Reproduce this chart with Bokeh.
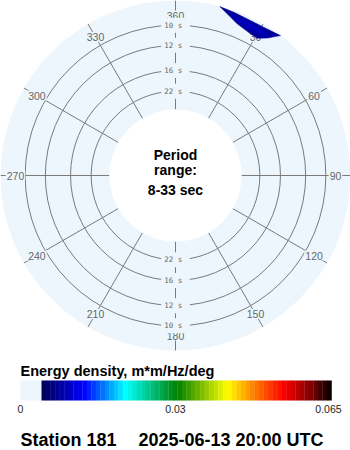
import numpy as np
from bokeh.plotting import figure
from bokeh.models import Range1d
from bokeh.core.properties import value
from bokeh.embed import file_html
from bokeh.resources import INLINE

# ---------------- data ----------------
ring_periods = [10, 12, 16, 22]
ring_labels = ["10  s", "12  s", "16  s", "22  s"]
period_min, period_max = 8, 33
dir_ticks = [0, 30, 60, 90, 120, 150, 180, 210, 240, 270, 300, 330]
dir_labels = ["360", "30", "60", "90", "120", "150", "180", "210", "240", "270", "300", "330"]

# energy region (direction in deg, period in s)
blob_outer_dir = [14.7, 19.7, 25.8, 32.0, 36.9, 33.7, 30.8, 27.9, 22.1, 17.7]
blob_outer_period = [8.33, 8.40, 8.47, 8.43, 8.31, 8.91, 9.28, 9.24, 9.00, 8.61]
blob_outer_energy = 0.004
blob_inner_dir = [19.0, 25.0, 31.0, 34.5, 31.0, 26.0, 21.0]
blob_inner_period = [8.62, 8.60, 8.64, 8.76, 8.92, 8.95, 8.80]
blob_inner_energy = 0.0058

cbar_ticks = [0, 0.03, 0.065]
cbar_tick_labels = ["0", "0.03", "0.065"]
cmap_values = [0, 0.0095, 0.0188, 0.0305, 0.0417, 0.0475, 0.0542, 0.0603, 0.065]
cmap_colors = ["#000050", "#0000ff", "#00ffff", "#008000", "#ffff00",
               "#ff8000", "#ff0000", "#800000", "#000000"]

title_text = "Energy density, m*m/Hz/deg"
station_text = "Station 181"
date_text = "2025-06-13 20:00 UTC"
center_lines = ["Period", "range:", "8-33 sec"]

# ---------------- geometry ----------------
CX, CY = 175, 175
R_OUT, R_IN, SCALE = 175, 66, 1210
R_LAB = 160
BG = "#eef6fd"
LINE = "#7a7a7a"
LAB = "#666666"


def radius(period):
    return R_IN + (1.0 / np.asarray(period, dtype=float) - 1.0 / period_max) * SCALE


def polar_xy(deg, r):
    th = np.radians(np.asarray(deg, dtype=float))
    return CX + r * np.sin(th), CY - r * np.cos(th)


def hex2rgb(h):
    return np.array([int(h[i:i + 2], 16) for i in (1, 3, 5)], dtype=float)


def cmap(v):
    rgb = [np.interp(v, cmap_values, [hex2rgb(c)[k] for c in cmap_colors]) for k in range(3)]
    return "#%02x%02x%02x" % tuple(int(round(c)) for c in rgb)


p = figure(width=350, height=450, x_range=Range1d(0, 350), y_range=Range1d(450, 0),
           output_backend="svg", toolbar_location=None, min_border=0,
           background_fill_color="white", border_fill_color="white")
p.axis.visible = False
p.grid.visible = False
p.outline_line_color = None

# disk
p.circle(x=[CX], y=[CY], radius=R_OUT, radius_dimension="x", fill_color=BG, line_color=None)

# rings
ring_r = radius(ring_periods)
p.circle(x=[CX] * len(ring_r), y=[CY] * len(ring_r), radius=list(ring_r), radius_dimension="x",
         fill_color=None, line_color=LINE, line_width=1)

# spokes
x0, y0 = polar_xy(dir_ticks, R_IN)
x1, y1 = polar_xy(dir_ticks, R_OUT)
p.segment(x0=x0, y0=y0, x1=x1, y1=y1, line_color=LINE, line_width=1)

# direction labels
lx, ly = polar_xy(dir_ticks, R_LAB)
p.text(x=lx, y=ly, text=dir_labels, text_align="center", text_baseline="middle",
       text_font=value("Liberation Sans"), text_font_size="10.5px", text_color=LAB,
       background_fill_color=BG, padding=1)

# ring labels at top and bottom
for d in (0, 180):
    rx, ry = polar_xy([d] * len(ring_r), ring_r)
    p.text(x=rx, y=ry, text=ring_labels, text_align="center", text_baseline="middle",
           text_font=value("DejaVu Sans Mono"), text_font_size="7.5px", text_color=LAB,
           background_fill_color=BG, padding=3)

# energy region
for dirs, pers, en in ((blob_outer_dir, blob_outer_period, blob_outer_energy),
                       (blob_inner_dir, blob_inner_period, blob_inner_energy)):
    bx, by = polar_xy(dirs, radius(pers))
    p.patch(x=bx, y=by, fill_color=cmap(en), line_color=cmap(en), line_width=0.5)

# inner white circle
p.circle(x=[CX], y=[CY], radius=R_IN, radius_dimension="x", fill_color="white", line_color=None)

# center text
p.text(x=[CX] * 3, y=[154, 169, 189], text=center_lines, text_align="center", text_baseline="middle",
       text_font=value("Liberation Sans"), text_font_size="14px", text_font_style="bold",
       text_color="black")

# colorbar
CB_X0, CB_X1, CB_LEFT = 41, 331, 20
CB_Y0, CB_Y1 = 380, 400


def cb_x(v):
    return CB_X0 + (np.asarray(v, dtype=float) - cbar_ticks[0]) / (cbar_ticks[-1] - cbar_ticks[0]) * (CB_X1 - CB_X0)


p.quad(left=[CB_LEFT], right=[CB_X0], top=[CB_Y0], bottom=[CB_Y1], fill_color=BG, line_color=None)
nb = 64
edges = np.linspace(cbar_ticks[0], cbar_ticks[-1], nb + 1)
mids = 0.5 * (edges[:-1] + edges[1:])
p.quad(left=cb_x(edges[:-1]), right=cb_x(edges[1:]) + 0.3, top=[CB_Y0] * nb, bottom=[CB_Y1] * nb,
       fill_color=[cmap(v) for v in mids], line_color=None)

tick_x = [CB_LEFT] + list(cb_x(cbar_ticks[1:]))
tick_x[-1] = tick_x[-1] - 3
p.text(x=tick_x, y=[408] * 3, text=cbar_tick_labels, text_align="center", text_baseline="middle",
       text_font=value("Liberation Sans"), text_font_size="10.5px", text_color="#222222")

p.text(x=[20], y=[370], text=[title_text], text_align="left", text_baseline="middle",
       text_font=value("Liberation Sans"), text_font_size="14.5px", text_font_style="bold",
       text_color="black")

p.text(x=[20, 138], y=[439, 439], text=[station_text, date_text], text_align="left",
       text_baseline="middle", text_font=value("Liberation Sans"), text_font_size="18px",
       text_font_style="bold", text_color="black")

open("out.html", "w").write(file_html(p, INLINE))
